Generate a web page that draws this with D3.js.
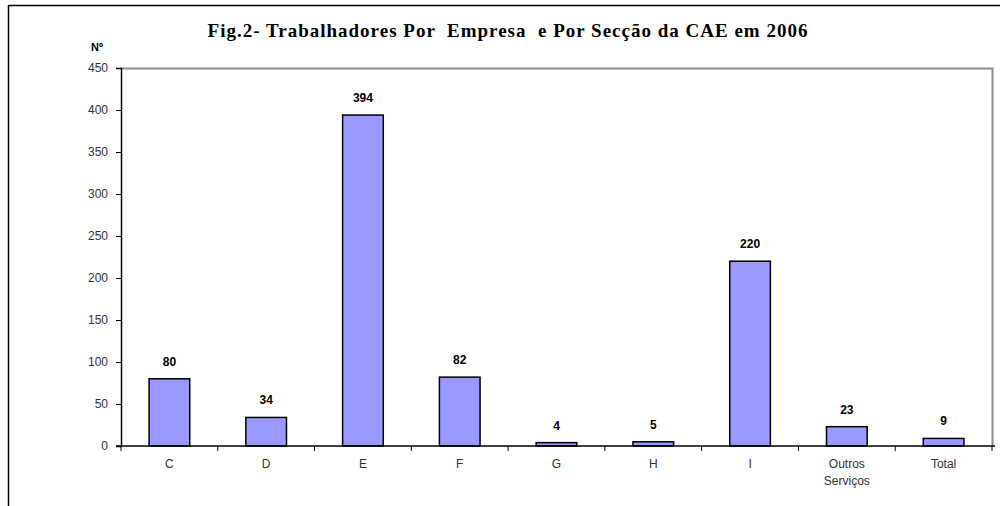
<!DOCTYPE html>
<html>
<head>
<meta charset="utf-8">
<script src="https://cdn.jsdelivr.net/npm/d3@7"></script>
<style>
  body { margin: 0; background: #fff; }
  svg { display: block; }
</style>
</head>
<body>
<svg id="chart" width="1000" height="506"></svg>
<script>
const categories = ["C", "D", "E", "F", "G", "H", "I", "Outros Serviços", "Total"];
const values = [80, 34, 394, 82, 4, 5, 220, 23, 9];
const yTicks = [0, 50, 100, 150, 200, 250, 300, 350, 400, 450];
const title = "Fig.2- Trabalhadores Por  Empresa  e Por Secção da CAE em 2006";

const svg = d3.select("#chart");
const margin = {left: 121, top: 68, right: 992, bottom: 446};

// outer frame (only top and left edges show)
svg.append("line").attr("x1", 8.5).attr("x2", 1000).attr("y1", 5.5).attr("y2", 5.5)
    .attr("stroke", "#000").attr("stroke-width", 1.5);
svg.append("line").attr("x1", 8.5).attr("x2", 8.5).attr("y1", 5).attr("y2", 506)
    .attr("stroke", "#000").attr("stroke-width", 1.5);

svg.append("text")
    .attr("x", 508).attr("y", 37)
    .attr("text-anchor", "middle")
    .attr("font-family", "'Liberation Serif', 'Times New Roman', serif")
    .attr("font-weight", "bold")
    .attr("font-size", 19)
    .attr("letter-spacing", 1.0)
    .style("white-space", "pre")
    .text(title);

const x = d3.scaleBand().domain(categories).range([margin.left, margin.right]).paddingInner(0.58).paddingOuter(0.29);
const xTicksScale = d3.scaleBand().domain(categories).range([margin.left, margin.right]);
const y = d3.scaleLinear().domain([0, 450]).range([margin.bottom, margin.top]);

// plot area border (gray top and right)
svg.append("path")
    .attr("d", `M${margin.left},${margin.top + 0.5}H${margin.right + 0.5}V${margin.bottom}`)
    .attr("fill", "none").attr("stroke", "#8c8c8c").attr("stroke-width", 2);

// bars
svg.selectAll("rect.bar")
    .data(values)
    .enter().append("rect")
    .attr("class", "bar")
    .attr("x", (d, i) => x(categories[i]))
    .attr("width", x.bandwidth())
    .attr("y", d => y(d))
    .attr("height", d => y(0) - y(d))
    .attr("fill", "#9999ff")
    .attr("stroke", "#000")
    .attr("stroke-width", 1.5);

// value labels
svg.selectAll("text.val")
    .data(values)
    .enter().append("text")
    .attr("class", "val")
    .attr("x", (d, i) => x(categories[i]) + x.bandwidth() / 2)
    .attr("y", d => y(d) - 13)
    .attr("text-anchor", "middle")
    .attr("font-family", "'Liberation Sans', Arial, sans-serif")
    .attr("font-weight", "bold")
    .attr("font-size", 12)
    .text(d => d);

// y axis
const yAxis = svg.append("g")
    .attr("transform", `translate(${margin.left},0)`)
    .call(d3.axisLeft(y).tickValues(yTicks).tickSize(5).tickPadding(8));
yAxis.select(".domain").attr("stroke", "#000").attr("stroke-width", 1.5);
yAxis.selectAll(".tick line").attr("stroke", "#000");
yAxis.selectAll(".tick text")
    .attr("font-family", "'Liberation Sans', Arial, sans-serif")
    .attr("font-size", 12).attr("fill", "#333");

// x axis: ticks at category boundaries
svg.append("line")
    .attr("x1", margin.left - 5).attr("x2", margin.right + 3)
    .attr("y1", margin.bottom).attr("y2", margin.bottom)
    .attr("stroke", "#000").attr("stroke-width", 1.5);
const bounds = categories.map(c => xTicksScale(c)).concat([margin.right]);
svg.selectAll("line.xtick")
    .data(bounds)
    .enter().append("line")
    .attr("class", "xtick")
    .attr("x1", d => d).attr("x2", d => d)
    .attr("y1", margin.bottom).attr("y2", margin.bottom + 5)
    .attr("stroke", "#000");

const xLabels = svg.selectAll("text.xlab")
    .data(categories)
    .enter().append("text")
    .attr("class", "xlab")
    .attr("x", d => xTicksScale(d) + xTicksScale.bandwidth() / 2)
    .attr("y", margin.bottom + 22)
    .attr("text-anchor", "middle")
    .attr("font-family", "'Liberation Sans', Arial, sans-serif")
    .attr("font-size", 12)
    .attr("fill", "#333");
xLabels.each(function (d) {
    const words = d.split(" ");
    const t = d3.select(this);
    words.forEach((w, i) => {
        t.append("tspan")
            .attr("x", xTicksScale(d) + xTicksScale.bandwidth() / 2)
            .attr("dy", i === 0 ? 0 : 17)
            .text(w);
    });
});

// unit label
svg.append("text")
    .attr("x", 97).attr("y", 51)
    .attr("text-anchor", "middle")
    .attr("font-family", "'Liberation Sans', Arial, sans-serif")
    .attr("font-weight", "bold")
    .attr("font-size", 11)
    .text("Nº");
</script>
</body>
</html>
